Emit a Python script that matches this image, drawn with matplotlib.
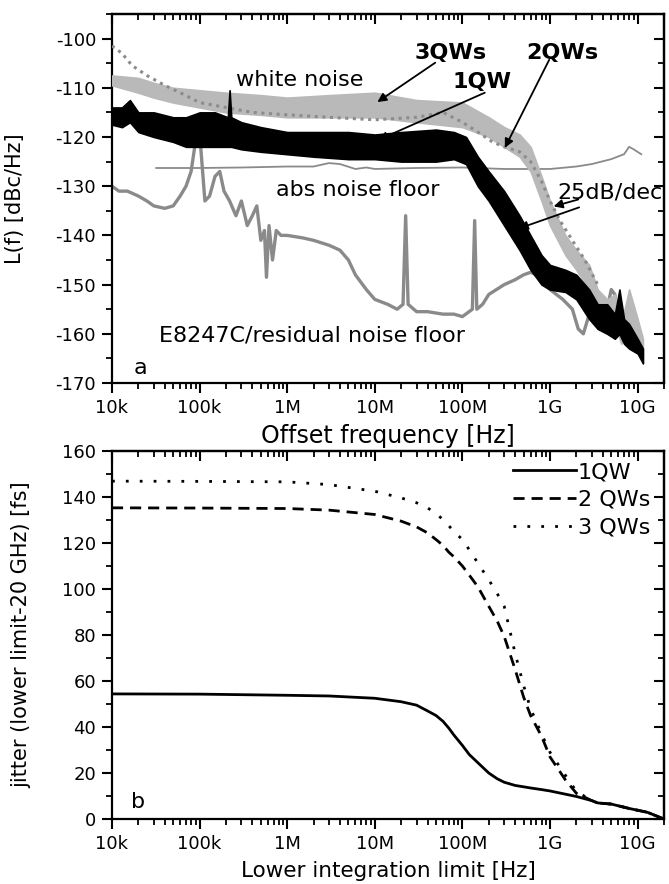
import matplotlib
matplotlib.use("Agg")
import matplotlib.pyplot as plt
from matplotlib.ticker import NullFormatter, MultipleLocator

plt.rcParams['font.family'] = ['DejaVu Sans']
plt.rcParams['axes.unicode_minus'] = False

# ---- panel a: phase noise spectra ----
tick_pos = [1e4, 1e5, 1e6, 1e7, 1e8, 1e9, 1e10]
tick_lab = ['10k', '100k', '1M', '10M', '100M', '1G', '10G']

# 1QW, black noisy band (upper / lower envelope)
qw1_f = [1e4, 1.3e4, 1.6e4, 2e4, 3e4, 5e4, 7e4, 1e5, 1.5e5, 2.1e5, 2.2e5, 2.3e5, 3e5, 5e5,
         1e6, 2e6, 5e6, 1e7, 2e7, 5e7, 8e7, 1.1e8, 1.5e8, 2e8, 3e8, 4.5e8, 6e8, 8e8, 1e9,
         1.5e9, 2e9, 2.8e9, 3.5e9, 4.5e9, 5.5e9, 6.2e9, 7e9, 8e9, 1e10, 1.15e10]
qw1_hi = [-114, -114, -112.5, -115, -115, -116, -116, -115, -115, -116, -110.5, -116, -117, -118,
          -119, -119, -119, -119.5, -119, -118.5, -119, -120, -124, -127, -131, -136, -140, -144,
          -146, -147, -148, -151, -154, -154, -156, -151, -157, -158, -161, -163]
qw1_lo = [-117.5, -118, -117, -119, -120, -121, -122, -122, -122, -122, -122, -122, -122.5, -123,
          -123.5, -124, -124.5, -124.5, -125, -125, -124.5, -125.5, -130, -133, -138, -143, -147,
          -150, -151, -151.5, -153, -157, -159, -160, -161, -160, -162, -163, -164, -166]

# 3QWs, light grey band
qw3_f = [1e4, 2e4, 3e4, 5e4, 1e5, 2e5, 5e5, 1e6, 3e6, 1e7, 3e7, 1e8, 2e8, 3e8, 4.5e8, 6e8,
         8e8, 1e9, 1.5e9, 2e9, 2.8e9, 3.5e9, 4.5e9, 5.5e9, 6.5e9, 8e9, 1e10, 1.15e10]
qw3_hi = [-107.5, -108, -109, -110, -110.5, -111, -111.5, -112, -111.5, -111, -112.5, -113, -116,
          -118, -119.5, -122, -128, -133, -140, -143, -146, -151, -153, -152, -158, -151, -157, -161]
qw3_lo = [-109.5, -111, -112, -113, -114, -115, -115.5, -116, -116, -116, -117, -118, -120,
          -122, -124, -127, -133, -138, -144, -147, -151, -156, -158, -158, -162, -159, -162, -166]

# 2QWs, dotted darker grey
qw2_f = [1e4, 1.3e4, 1.7e4, 2.5e4, 4e4, 6e4, 1e5, 2e5, 4e5, 1e6, 3e6, 1e7, 3e7, 6e7, 1e8,
         1.5e8, 2.2e8, 3e8, 4.5e8, 6e8, 8e8, 1e9, 1.3e9, 1.8e9, 2.5e9, 3.5e9]
qw2_L = [-101.5, -103, -105.5, -107.5, -109.5, -111, -113, -114, -115, -115.5, -116, -116.5, -116,
         -115, -117, -119, -121, -122, -123, -125, -129, -133, -137, -141, -145, -150]

# absolute noise floor, thin grey line
abs_f = [3.2e4, 1e5, 3e5, 1e6, 2e6, 3e6, 4e6, 6e6, 8e6, 1e7, 3e7, 1e8, 3e8, 1e9, 2e9, 3e9,
         5e9, 7e9, 8e9, 9e9, 1.1e10]
abs_L = [-126.3, -126.3, -126.2, -126, -126, -125.3, -125.5, -126.5, -126.2, -126.5, -126.3,
         -126.2, -126.5, -126.5, -126, -125.5, -124.5, -123.5, -122, -122.5, -123.5]

# E8247C / residual noise floor
res_f = [1e4, 1.2e4, 1.5e4, 2e4, 2.5e4, 3e4, 4e4, 5e4, 6e4, 7e4, 8e4, 8.8e4, 9.3e4, 9.8e4,
         1.05e5, 1.15e5, 1.3e5, 1.5e5, 1.7e5, 1.9e5, 2.2e5, 2.6e5, 3e5, 3.5e5, 4e5, 4.5e5,
         5e5, 5.5e5, 5.8e5, 6.2e5, 6.8e5, 7.5e5, 8.5e5, 1e6, 1.5e6, 2e6, 3e6, 4e6, 5e6, 6e6,
         8e6, 1e7, 1.4e7, 1.8e7, 2.1e7, 2.25e7, 2.4e7, 3e7, 4e7, 6e7, 8e7, 1e8, 1.3e8, 1.38e8,
         1.46e8, 1.7e8, 2e8, 3e8, 4e8, 5e8, 6e8, 7e8, 8e8, 1e9, 1.4e9, 1.8e9, 2.1e9, 2.4e9,
         2.7e9, 3e9, 3.5e9, 4e9, 4.5e9, 5e9, 5.5e9, 6e9, 7e9, 8e9, 9e9, 1e10, 1.1e10]
res_L = [-130, -131, -131, -132, -133, -134, -134.5, -134, -132, -130, -127, -122, -117, -117,
         -124, -133, -132, -128, -127, -131, -133, -136, -133, -138, -136, -134,
         -141, -139, -148.5, -138, -145, -139, -140, -140, -140.5, -141, -142, -143, -145, -148,
         -151, -153, -154, -155, -154, -136, -154, -155.5, -155.5, -156, -156, -156.5, -155, -137,
         -155, -154, -152, -150, -149, -148, -147.5, -148, -149.5, -151, -153, -155, -159, -160,
         -157, -154, -156, -158, -155, -151, -152, -158, -157, -159, -162, -161, -164]

# ---- panel b: integrated jitter ----
jit_f = [1e4, 1e5, 1e6, 3e6, 1e7, 2e7, 3e7, 4e7, 5e7, 6e7, 7e7, 8e7, 1e8, 1.2e8, 1.5e8, 2e8,
         2.5e8, 3e8, 4e8, 5e8, 6e8, 8e8, 1e9, 1.5e9, 2e9, 3e9, 3.5e9, 5e9, 8e9, 1.3e10, 2e10]
jit_1qw = [54.4, 54.3, 53.8, 53.5, 52.5, 51, 49.5, 47, 45, 42.5, 39.5, 36.5, 32, 28, 24.5, 20,
           17.5, 16, 14.6, 14, 13.5, 12.8, 12.2, 10.8, 9.8, 8, 7, 6.5, 4.6, 2.9, 0]
jit_2qw = [135.3, 135.2, 135, 134.3, 132.4, 129.5, 127, 124.4, 121.5, 119, 116, 114, 110, 106,
           101, 92.5, 86, 79.4, 65, 53, 45, 36, 27, 17, 11.2, 8, 7, 6.5, 4.6, 2.9, 0]
jit_3qw = [146.9, 146.8, 146.6, 145.4, 142.5, 139.6, 137.5, 135.3, 132.8, 130.2, 127.5, 125,
           121.5, 117, 111.3, 104, 98, 92.5, 72, 58, 48, 37, 29, 19, 12, 8, 7, 6.5, 4.6, 2.9, 0]

LIGHT = '#b9b9b9'
MID = '#8a8a8a'

fig = plt.figure(figsize=(6.69, 8.84), dpi=100)
ax1 = fig.add_axes([0.1674, 0.5667, 0.8251, 0.4175])
ax2 = fig.add_axes([0.1674, 0.0735, 0.8251, 0.4163])


def style_axis(ax, ymajor, yminor):
    ax.set_xscale('log')
    ax.set_xlim(1e4, 2e10)
    ax.set_xticks(tick_pos, tick_lab)
    ax.xaxis.set_minor_formatter(NullFormatter())
    ax.yaxis.set_major_locator(MultipleLocator(ymajor))
    ax.yaxis.set_minor_locator(MultipleLocator(yminor))
    ax.tick_params(which='major', direction='out', length=7.5, width=1.5, labelsize=13, pad=4)
    ax.tick_params(which='minor', direction='out', length=4.5, width=1.3)
    for s in ax.spines.values():
        s.set_linewidth(1.6)
    # inward ticks on top and right
    top = ax.secondary_xaxis('top')
    top.set_xticks(tick_pos)
    top.xaxis.set_major_formatter(NullFormatter())
    top.xaxis.set_minor_formatter(NullFormatter())
    top.tick_params(which='major', direction='in', length=7, width=1.5)
    top.tick_params(which='minor', direction='in', length=4, width=1.3)
    top.spines['top'].set_linewidth(1.6)
    right = ax.secondary_yaxis('right')
    right.yaxis.set_major_locator(MultipleLocator(ymajor))
    right.yaxis.set_minor_locator(MultipleLocator(yminor))
    right.yaxis.set_major_formatter(NullFormatter())
    right.tick_params(which='major', direction='in', length=7, width=1.5)
    right.tick_params(which='minor', direction='in', length=4, width=1.3)
    right.spines['right'].set_linewidth(1.6)


# ---- panel a ----
ax1.plot(res_f, res_L, color=MID, lw=2.4, zorder=2)
ax1.plot(abs_f, abs_L, color=MID, lw=1.3, zorder=2)
ax1.fill_between(qw3_f, qw3_lo, qw3_hi, color=LIGHT, lw=1.2, edgecolor=LIGHT, zorder=3)
ax1.plot(qw2_f, qw2_L, color='#8c8c8c', lw=2.2, linestyle=(0, (1, 1.5)), zorder=4)
ax1.fill_between(qw1_f, qw1_lo, qw1_hi, color='black', lw=1.2, edgecolor='black', zorder=5)

ax1.set_ylim(-170, -95)
style_axis(ax1, 10, 5)
ax1.set_xlabel('Offset frequency [Hz]', fontsize=17)
ax1.xaxis.set_label_coords(0.5, -0.112)
ax1.set_ylabel('L(f) [dBc/Hz]', fontsize=15)
ax1.yaxis.set_label_coords(-0.158, 0.5)

txt = dict(fontsize=16, zorder=6)
arrow = dict(arrowstyle='-|>', color='black', lw=1.3, mutation_scale=13, shrinkA=0, shrinkB=0)
ax1.text(2.6e5, -108.5, 'white noise', ha='left', va='center', **txt)
ax1.text(7.3e7, -102.9, '3QWs', ha='center', va='center', fontweight='bold', **txt)
ax1.text(1.4e9, -102.9, '2QWs', ha='center', va='center', fontweight='bold', **txt)
ax1.text(1.66e8, -108.8, '1QW', ha='center', va='center', fontweight='bold', **txt)
ax1.annotate('', xy=(1.07e7, -112.9), xytext=(4.9e7, -104.9), arrowprops=arrow, zorder=7)
ax1.annotate('', xy=(1.1e7, -120.6), xytext=(1.8e8, -111), arrowprops=arrow, zorder=7)
ax1.annotate('', xy=(3.05e8, -122.2), xytext=(9.8e8, -104.3), arrowprops=arrow, zorder=7)
ax1.text(7.4e5, -130.8, 'abs noise floor', ha='left', va='center', **txt)
ax1.text(1.2e9, -131.2, '25dB/dec', ha='left', va='center', clip_on=True, **txt)
ax1.annotate('', xy=(1.1e9, -134.1), xytext=(2.1e9, -132.7), arrowprops=arrow, zorder=7)
ax1.annotate('', xy=(4.4e8, -138.6), xytext=(2.15e9, -134.3), arrowprops=arrow, zorder=7)
ax1.text(3.4e4, -160.4, 'E8247C/residual noise floor', ha='left', va='center', **txt)
ax1.text(2.1e4, -167, 'a', ha='center', va='center', **txt)

# ---- panel b ----
ax2.plot(jit_f, jit_1qw, color='black', lw=2, label='1QW')
ax2.plot(jit_f, jit_2qw, color='black', lw=2, linestyle=(0, (4, 2.5)), label='2 QWs')
ax2.plot(jit_f, jit_3qw, color='black', lw=2, linestyle=(0, (1, 4)), label='3 QWs')
ax2.set_ylim(0, 160)
style_axis(ax2, 20, 10)
ax2.set_xlabel('Lower integration limit [Hz]', fontsize=15.5)
ax2.xaxis.set_label_coords(0.5, -0.114)
ax2.set_ylabel('jitter (lower limit-20 GHz) [fs]', fontsize=15)
ax2.yaxis.set_label_coords(-0.146, 0.5)
ax2.text(2e4, 7.4, 'b', ha='center', va='center', fontsize=16)
ax2.legend(loc='upper right', bbox_to_anchor=(0.975, 0.97), frameon=False, fontsize=16,
           handlelength=2.8, handletextpad=0.1, labelspacing=0.35, borderaxespad=0,
           borderpad=0)

fig.savefig('out.png', dpi=100)
